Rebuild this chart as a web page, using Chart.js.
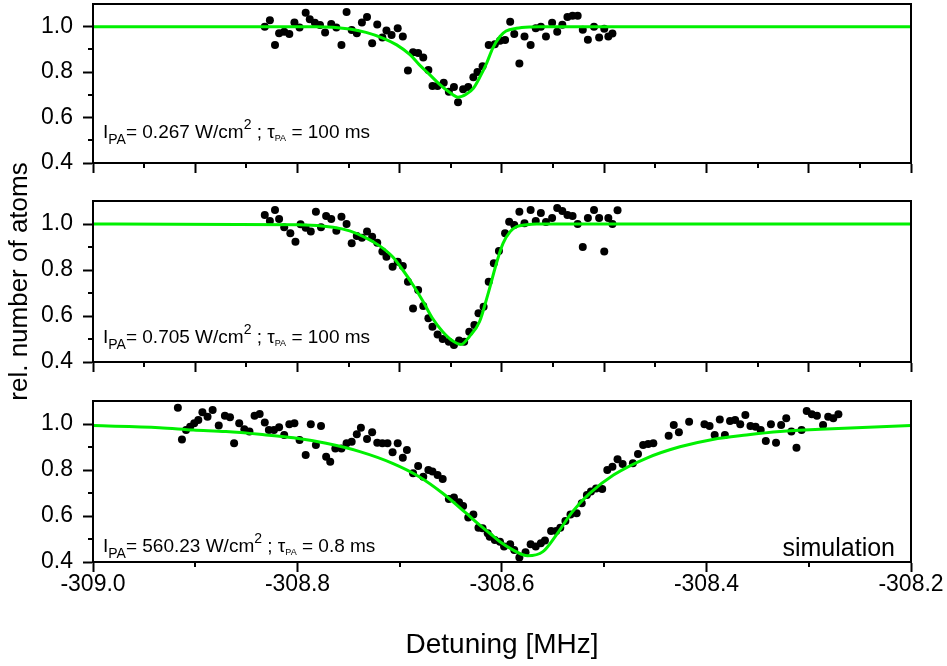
<!DOCTYPE html>
<html>
<head>
<meta charset="utf-8">
<script src="https://cdn.jsdelivr.net/npm/chart.js@4.4.0/dist/chart.umd.min.js"></script>
<style>
  html, body { margin: 0; padding: 0; background: #fff; }
  #wrap { position: relative; width: 947px; height: 666px; overflow: hidden; }
  #wrap canvas { position: absolute; left: 0; }
</style>
</head>
<body>
<div id="wrap">
  <canvas id="panel1" width="947" height="190" style="top:0"></canvas>
  <canvas id="panel3" width="947" height="276" style="top:390px"></canvas>
  <canvas id="panel2" width="947" height="300" style="top:130px"></canvas>
</div>
<script>
// axis ranges and ticks
const X_MIN = -309.0, X_MAX = -308.2;
const Y_MIN = 0.4, Y_MAX = 1.1;
const xTicksLabelled = [-309.0, -308.8, -308.6, -308.4, -308.2];
const xMinorLabelled = [-308.9, -308.7, -308.5, -308.3];
const xTicksUpper = [-309.0, -308.9, -308.8, -308.7, -308.6, -308.5, -308.4, -308.3, -308.2];
const xMinorUpper = [-308.95, -308.85, -308.75, -308.65, -308.55, -308.45, -308.35, -308.25];
const yTicks = [0.4, 0.6, 0.8, 1.0];
const yMinor = [0.5, 0.7, 0.9];

// PA intensity [W/cm^2] and pulse length [ms] of each scan
const intensities = ['0.267', '0.705', '560.23'];
const pulseTimes = ['100', '100', '0.8'];

// measured relative atom number vs detuning
const scan1 = [
  [-308.832, 1.000], [-308.827, 1.029], [-308.822, 0.920], [-308.818, 0.971], [-308.813, 0.978],
  [-308.808, 0.968], [-308.803, 1.019], [-308.798, 0.997], [-308.792, 1.062], [-308.788, 1.033],
  [-308.783, 1.017], [-308.778, 1.007], [-308.773, 0.975], [-308.767, 1.012], [-308.762, 0.997],
  [-308.757, 0.920], [-308.752, 1.065], [-308.747, 0.986], [-308.742, 0.971], [-308.737, 1.019],
  [-308.732, 1.043], [-308.727, 0.927], [-308.722, 1.010], [-308.717, 0.952], [-308.713, 0.983],
  [-308.708, 0.964], [-308.702, 0.993], [-308.697, 0.957], [-308.692, 0.807], [-308.687, 0.888],
  [-308.682, 0.884], [-308.677, 0.865], [-308.672, 0.809], [-308.668, 0.739], [-308.663, 0.739],
  [-308.657, 0.753], [-308.652, 0.714], [-308.647, 0.735], [-308.643, 0.667], [-308.638, 0.725],
  [-308.633, 0.735], [-308.628, 0.778], [-308.624, 0.801], [-308.619, 0.826], [-308.613, 0.920],
  [-308.607, 0.923], [-308.602, 0.938], [-308.597, 0.942], [-308.592, 1.022], [-308.588, 0.968],
  [-308.583, 0.838], [-308.578, 0.957], [-308.572, 0.920], [-308.567, 0.993], [-308.562, 1.000],
  [-308.557, 0.957], [-308.551, 1.017], [-308.546, 0.978], [-308.541, 1.009], [-308.536, 1.043],
  [-308.531, 1.048], [-308.526, 1.048], [-308.521, 0.987], [-308.516, 0.943], [-308.510, 1.000],
  [-308.505, 0.952], [-308.500, 0.991], [-308.496, 0.957], [-308.492, 0.970]
];
const scan2 = [
  [-308.832, 1.039], [-308.827, 1.013], [-308.822, 1.061], [-308.818, 1.022], [-308.813, 0.986],
  [-308.807, 0.960], [-308.802, 0.923], [-308.797, 0.999], [-308.792, 0.984], [-308.787, 0.967],
  [-308.782, 1.053], [-308.777, 0.986], [-308.772, 1.035], [-308.767, 1.022], [-308.762, 0.971],
  [-308.757, 1.032], [-308.752, 1.000], [-308.747, 0.916], [-308.742, 0.948], [-308.737, 0.940],
  [-308.732, 0.967], [-308.727, 0.945], [-308.722, 0.919], [-308.717, 0.880], [-308.713, 0.858],
  [-308.707, 0.814], [-308.702, 0.836], [-308.697, 0.817], [-308.692, 0.749], [-308.687, 0.633],
  [-308.682, 0.713], [-308.677, 0.643], [-308.672, 0.590], [-308.668, 0.553], [-308.663, 0.520],
  [-308.658, 0.500], [-308.652, 0.488], [-308.647, 0.474], [-308.642, 0.493], [-308.637, 0.488],
  [-308.632, 0.532], [-308.627, 0.561], [-308.623, 0.612], [-308.618, 0.640], [-308.613, 0.749],
  [-308.608, 0.829], [-308.603, 0.883], [-308.597, 0.960], [-308.593, 1.010], [-308.588, 0.996],
  [-308.583, 1.053], [-308.578, 1.003], [-308.572, 1.061], [-308.567, 1.013], [-308.562, 1.048],
  [-308.557, 1.009], [-308.551, 1.026], [-308.546, 1.070], [-308.541, 1.057], [-308.536, 1.039],
  [-308.531, 1.035], [-308.526, 1.000], [-308.521, 0.900], [-308.516, 1.026], [-308.510, 1.061],
  [-308.505, 1.026], [-308.500, 0.880], [-308.496, 1.026], [-308.492, 1.000], [-308.487, 1.060]
];
const scan3 = [
  [-308.917, 1.071], [-308.913, 0.933], [-308.909, 0.974], [-308.905, 0.988], [-308.901, 1.003],
  [-308.897, 1.017], [-308.893, 1.051], [-308.888, 1.032], [-308.883, 1.061], [-308.877, 0.993],
  [-308.871, 1.036], [-308.866, 1.029], [-308.862, 0.916], [-308.857, 1.003], [-308.852, 0.977],
  [-308.847, 0.967], [-308.842, 1.036], [-308.837, 1.043], [-308.832, 1.007], [-308.828, 0.974],
  [-308.823, 0.974], [-308.818, 0.986], [-308.813, 0.952], [-308.808, 0.999], [-308.803, 1.003],
  [-308.798, 0.930], [-308.792, 0.865], [-308.787, 0.999], [-308.782, 0.909], [-308.777, 0.991],
  [-308.772, 0.858], [-308.768, 0.836], [-308.763, 0.894], [-308.757, 0.894], [-308.752, 0.916],
  [-308.747, 0.923], [-308.742, 0.955], [-308.738, 0.984], [-308.732, 0.935], [-308.727, 0.964],
  [-308.722, 0.919], [-308.717, 0.916], [-308.712, 0.916], [-308.707, 0.877], [-308.702, 0.916],
  [-308.697, 0.853], [-308.693, 0.887], [-308.687, 0.786], [-308.682, 0.817], [-308.677, 0.771],
  [-308.672, 0.800], [-308.668, 0.793], [-308.663, 0.778], [-308.658, 0.761], [-308.652, 0.674],
  [-308.647, 0.680], [-308.642, 0.660], [-308.638, 0.643], [-308.633, 0.593], [-308.628, 0.607],
  [-308.623, 0.549], [-308.619, 0.547], [-308.614, 0.525], [-308.612, 0.510], [-308.607, 0.496],
  [-308.602, 0.488], [-308.598, 0.467], [-308.592, 0.477], [-308.588, 0.452], [-308.583, 0.420],
  [-308.577, 0.442], [-308.572, 0.477], [-308.567, 0.467], [-308.562, 0.481], [-308.558, 0.493],
  [-308.552, 0.535], [-308.547, 0.535], [-308.543, 0.549], [-308.538, 0.578], [-308.533, 0.607],
  [-308.527, 0.612], [-308.522, 0.655], [-308.517, 0.691], [-308.513, 0.706], [-308.508, 0.720],
  [-308.502, 0.717], [-308.497, 0.800], [-308.492, 0.814], [-308.487, 0.847], [-308.482, 0.826],
  [-308.472, 0.829], [-308.467, 0.870], [-308.462, 0.909], [-308.457, 0.913], [-308.452, 0.916],
  [-308.437, 0.949], [-308.432, 0.996], [-308.427, 0.964], [-308.417, 1.010], [-308.402, 0.999],
  [-308.397, 0.991], [-308.392, 0.952], [-308.387, 1.020], [-308.382, 0.952], [-308.377, 1.013],
  [-308.372, 1.017], [-308.367, 0.999], [-308.362, 1.039], [-308.357, 0.991], [-308.352, 0.988],
  [-308.347, 0.974], [-308.342, 0.926], [-308.337, 0.999], [-308.332, 0.919], [-308.327, 0.996],
  [-308.322, 1.025], [-308.317, 0.967], [-308.312, 0.897], [-308.307, 0.974], [-308.302, 1.057],
  [-308.297, 1.042], [-308.292, 1.036], [-308.286, 0.996], [-308.281, 1.032], [-308.276, 1.025],
  [-308.271, 1.042]
];

// fitted / simulated line profiles
const fit1 = [
  [-309.0, 1.000], [-308.782, 1.000], [-308.749, 0.990], [-308.733, 0.975], [-308.716, 0.949],
  [-308.703, 0.920], [-308.690, 0.877], [-308.681, 0.833], [-308.671, 0.790], [-308.661, 0.746],
  [-308.651, 0.710], [-308.643, 0.690], [-308.635, 0.703], [-308.628, 0.729], [-308.622, 0.775],
  [-308.615, 0.840], [-308.609, 0.906], [-308.602, 0.957], [-308.596, 0.981], [-308.586, 0.993],
  [-308.573, 0.999], [-308.563, 1.000], [-308.2, 1.000]
];
const fit2 = [
  [-309.0, 1.000], [-308.798, 0.997], [-308.765, 0.986], [-308.749, 0.970], [-308.733, 0.940],
  [-308.720, 0.906], [-308.707, 0.858], [-308.697, 0.800], [-308.687, 0.735], [-308.677, 0.662],
  [-308.668, 0.590], [-308.658, 0.532], [-308.648, 0.491], [-308.640, 0.476], [-308.632, 0.510],
  [-308.622, 0.575], [-308.614, 0.691], [-308.605, 0.836], [-308.599, 0.916], [-308.592, 0.967],
  [-308.586, 0.988], [-308.576, 0.997], [-308.566, 1.000], [-308.2, 1.000]
];
const fit3 = [
  [-309.0, 0.993], [-308.935, 0.984], [-308.902, 0.974], [-308.870, 0.967], [-308.837, 0.955],
  [-308.804, 0.940], [-308.772, 0.916], [-308.739, 0.880], [-308.707, 0.829], [-308.681, 0.771],
  [-308.658, 0.699], [-308.635, 0.612], [-308.622, 0.561], [-308.612, 0.525], [-308.602, 0.488],
  [-308.589, 0.452], [-308.575, 0.427], [-308.560, 0.445], [-308.547, 0.517], [-308.531, 0.619],
  [-308.514, 0.699], [-308.491, 0.778], [-308.459, 0.851], [-308.426, 0.901], [-308.394, 0.933],
  [-308.361, 0.952], [-308.328, 0.967], [-308.289, 0.977], [-308.2, 0.993]
];

const FONT = '"Liberation Sans", Arial, sans-serif';
const GREEN = '#00f000';
const PLOT_LEFT = 93;
const PLOT_RIGHT_PAD = 36;

// closed frame round the plot area
const framePlugin = {
  id: 'frame',
  afterDraw(chart) {
    const a = chart.chartArea, ctx = chart.ctx;
    ctx.save();
    ctx.strokeStyle = '#000';
    ctx.lineWidth = 2;
    ctx.strokeRect(a.left, a.top, a.right - a.left, a.bottom - a.top);
    ctx.restore();
  }
};

// short outward ticks between the labelled ones
const minorTicksPlugin = {
  id: 'minorTicks',
  afterDraw(chart, args, opts) {
    const ctx = chart.ctx, a = chart.chartArea;
    const xs = chart.scales.x, ys = chart.scales.y;
    ctx.save();
    ctx.strokeStyle = '#000';
    ctx.lineWidth = 2;
    ctx.beginPath();
    (opts.x || []).forEach(v => {
      const px = Math.round(xs.getPixelForValue(v));
      ctx.moveTo(px, a.bottom);
      ctx.lineTo(px, a.bottom + 5);
    });
    (opts.y || []).forEach(v => {
      const py = Math.round(ys.getPixelForValue(v));
      ctx.moveTo(a.left, py);
      ctx.lineTo(a.left - 5, py);
    });
    ctx.stroke();
    ctx.restore();
  }
};

// I_PA = ... ; tau_PA = ... caption inside each panel
const captionPlugin = {
  id: 'caption',
  afterDraw(chart, args, o) {
    const ctx = chart.ctx, a = chart.chartArea;
    ctx.save();
    ctx.fillStyle = '#000';
    ctx.textBaseline = 'alphabetic';
    let x = a.left + 10;
    const y = a.bottom - o.lift;
    const parts = [
      ['I', 19, 0], ['PA', 14, 6], ['= ' + o.intensity + ' W/cm', 19, 0], ['2', 14, -9],
      [' ; ', 19, 0], ['\u03c4', 19, 0], ['PA', 9, 3], [' = ' + o.time + ' ms', 19, 0]
    ];
    parts.forEach(([t, size, shift]) => {
      ctx.font = size + 'px ' + FONT;
      ctx.fillText(t, x, y + shift);
      x += ctx.measureText(t).width;
    });
    if (o.note) {
      ctx.font = '25px ' + FONT;
      ctx.textAlign = 'right';
      ctx.fillText(o.note, a.right - 16, a.bottom - 6);
    }
    ctx.restore();
  }
};

function makePanel(id, scan, fit, n, topPad, axisHeight, labelled) {
  const toXY = arr => arr.map(p => ({ x: p[0], y: p[1] }));
  return new Chart(document.getElementById(id), {
    type: 'scatter',
    data: {
      datasets: [
        {
          type: 'line',
          data: toXY(fit),
          borderColor: GREEN,
          borderWidth: 3,
          pointRadius: 0,
          cubicInterpolationMode: 'monotone',
          fill: false,
          order: 0
        },
        {
          data: toXY(scan),
          backgroundColor: '#000',
          borderColor: '#000',
          borderWidth: 0,
          pointRadius: 4,
          order: 1
        }
      ]
    },
    options: {
      responsive: false,
      animation: false,
      events: [],
      layout: { padding: { left: 0, right: PLOT_RIGHT_PAD, top: topPad, bottom: 0 } },
      plugins: {
        legend: { display: false },
        tooltip: { enabled: false },
        minorTicks: { x: labelled ? xMinorLabelled : xMinorUpper, y: yMinor },
        caption: {
          intensity: intensities[n],
          time: pulseTimes[n],
          lift: [25, 19, 10][n],
          note: labelled ? 'simulation' : null
        }
      },
      scales: {
        x: {
          type: 'linear',
          min: X_MIN,
          max: X_MAX,
          afterBuildTicks: s => { s.ticks = (labelled ? xTicksLabelled : xTicksUpper).map(v => ({ value: v })); },
          afterFit: s => { s.height = axisHeight; },
          ticks: {
            display: labelled,
            autoSkip: false,
            maxRotation: 0,
            padding: -1,
            color: '#000',
            font: { family: FONT, size: 23 },
            callback: v => v.toFixed(1)
          },
          grid: { drawOnChartArea: false, drawTicks: true, tickLength: 10, tickWidth: 2, tickColor: '#000' },
          border: { display: true, color: '#000', width: 2 },
          title: {
            display: labelled,
            text: 'Detuning [MHz]',
            color: '#000',
            font: { family: FONT, size: 28 },
            padding: { top: 14 }
          }
        },
        y: {
          min: Y_MIN,
          max: Y_MAX,
          afterBuildTicks: s => { s.ticks = yTicks.map(v => ({ value: v })); },
          afterFit: s => {
            s.width = PLOT_LEFT;
            s.paddingTop = 0;
            s.paddingBottom = 0;
          },
          ticks: {
            padding: 10,
            color: '#000',
            font: { family: FONT, size: 23 },
            callback: v => v.toFixed(1)
          },
          grid: { drawOnChartArea: false, drawTicks: true, tickLength: 10, tickWidth: 2, tickColor: '#000' },
          border: { display: true, color: '#000', width: 2 },
          title: {
            display: n === 1,
            text: 'rel. number of atoms',
            color: '#000',
            font: { family: FONT, size: 26 },
            padding: { top: 4, bottom: 0 }
          }
        }
      }
    },
    plugins: [framePlugin, minorTicksPlugin, captionPlugin]
  });
}

makePanel('panel1', scan1, fit1, 0, 2, 27, false);
makePanel('panel3', scan3, fit3, 2, 11, 104, true);
makePanel('panel2', scan2, fit2, 1, 71, 68, false);
</script>
</body>
</html>
